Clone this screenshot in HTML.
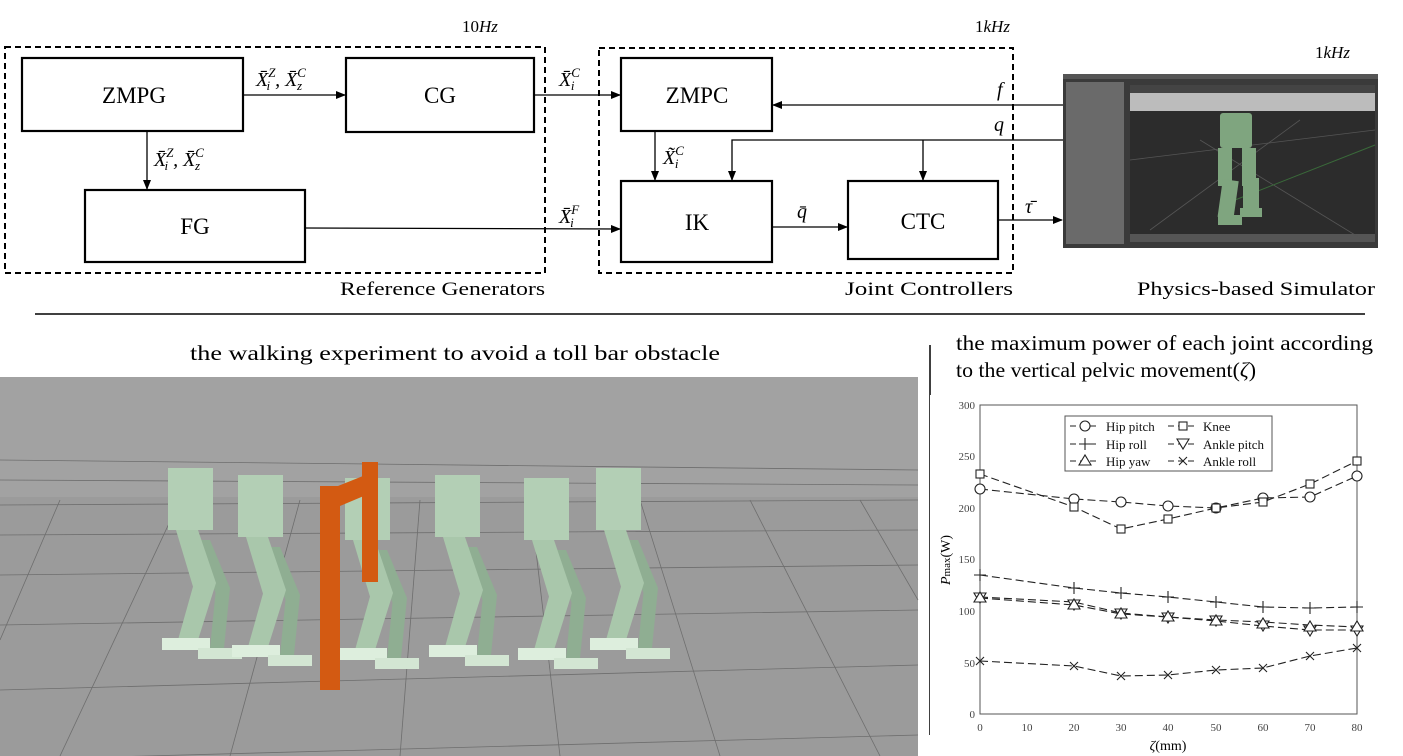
<!DOCTYPE html>
<html><head><meta charset="utf-8"><style>
html,body{margin:0;padding:0;background:#fff;}
svg{display:block;}
.t{font-family:"Liberation Serif",serif;}
.m{font-family:"Liberation Serif",serif;font-style:italic;}
</style></head><body>
<svg width="1403" height="756" viewBox="0 0 1403 756" xmlns="http://www.w3.org/2000/svg">
<defs>
<marker id="a" markerWidth="10" markerHeight="8" refX="9" refY="4" orient="auto" markerUnits="userSpaceOnUse"><path d="M0,0 L10,4 L0,8z" fill="#000"/></marker>
<g id="rb">
<polygon points="28,72 42,72 62,120 48,126" fill="#8fae92"/>
<polygon points="48,120 62,120 56,180 42,180" fill="#8fae92"/>
<polygon points="8,62 30,62 48,115 26,122" fill="#a9c7ab"/>
<polygon points="26,115 48,115 30,172 10,172" fill="#a9c7ab"/>
<rect x="0" y="0" width="45" height="62" fill="#b3cfb5"/>
<rect x="-6" y="170" width="48" height="12" fill="#ddeedd"/>
<rect x="30" y="180" width="44" height="11" fill="#d3e6d3"/>
</g>
</defs>
<rect x="5" y="47" width="540" height="226" fill="none" stroke="#000" stroke-width="2" stroke-dasharray="6,4"/>
<rect x="599" y="48" width="414" height="225" fill="none" stroke="#000" stroke-width="2" stroke-dasharray="6,4"/>
<text x="462" y="32" class="t" font-size="17">10<tspan font-style="italic">Hz</tspan></text>
<text x="975" y="32" class="t" font-size="17">1<tspan font-style="italic">kHz</tspan></text>
<text x="1315" y="58" class="t" font-size="17">1<tspan font-style="italic">kHz</tspan></text>
<g fill="#fff" stroke="#000" stroke-width="2.2">
<rect x="22" y="58" width="221" height="73"/>
<rect x="346" y="58" width="188" height="74"/>
<rect x="85" y="190" width="220" height="72"/>
<rect x="621" y="58" width="151" height="73"/>
<rect x="621" y="181" width="151" height="81"/>
<rect x="848" y="181" width="150" height="78"/>
</g>
<g class="t" font-size="23" text-anchor="middle">
<text x="134" y="103">ZMPG</text>
<text x="440" y="103">CG</text>
<text x="195" y="234">FG</text>
<text x="697" y="103">ZMPC</text>
<text x="697" y="230">IK</text>
<text x="923" y="229">CTC</text>
</g>
<g stroke="#000" stroke-width="1.3" fill="none">
<line x1="243" y1="95" x2="345" y2="95" marker-end="url(#a)"/>
<line x1="534" y1="95" x2="620" y2="95" marker-end="url(#a)"/>
<line x1="147" y1="131" x2="147" y2="189" marker-end="url(#a)"/>
<line x1="305" y1="228" x2="620" y2="229" marker-end="url(#a)"/>
<line x1="655" y1="131" x2="655" y2="180" marker-end="url(#a)"/>
<line x1="1063" y1="105" x2="773" y2="105" marker-end="url(#a)"/>
<polyline points="1063,140 732,140 732,180" marker-end="url(#a)"/>
<line x1="923" y1="140" x2="923" y2="180" marker-end="url(#a)"/>
<line x1="772" y1="227" x2="847" y2="227" marker-end="url(#a)"/>
<line x1="998" y1="220" x2="1062" y2="220" marker-end="url(#a)"/>
</g>
<g class="m" font-size="20">
<text x="256" y="86">X̄<tspan font-size="13" dy="-9">Z</tspan><tspan font-size="13" dy="13" dx="-9">i</tspan><tspan dy="-4" dx="5">, X̄</tspan><tspan font-size="13" dy="-9">C</tspan><tspan font-size="13" dy="13" dx="-9">z</tspan></text>
<text x="154" y="166">X̄<tspan font-size="13" dy="-9">Z</tspan><tspan font-size="13" dy="13" dx="-9">i</tspan><tspan dy="-4" dx="5">, X̄</tspan><tspan font-size="13" dy="-9">C</tspan><tspan font-size="13" dy="13" dx="-9">z</tspan></text>
<text x="559" y="86">X̄<tspan font-size="13" dy="-9">C</tspan><tspan font-size="13" dy="13" dx="-9">i</tspan></text>
<text x="559" y="223">X̄<tspan font-size="13" dy="-9">F</tspan><tspan font-size="13" dy="13" dx="-9">i</tspan></text>
<text x="663" y="164">X̃<tspan font-size="13" dy="-9">C</tspan><tspan font-size="13" dy="13" dx="-9">i</tspan></text>
<text x="997" y="96">f</text>
<text x="994" y="131">q</text>
<text x="797" y="218">q̄</text>
<text x="1025" y="213">τ̄</text>
</g>
<g class="t" font-size="19">
<text x="340" y="295" textLength="205" lengthAdjust="spacingAndGlyphs">Reference Generators</text>
<text x="845" y="295" textLength="168" lengthAdjust="spacingAndGlyphs">Joint Controllers</text>
<text x="1137" y="295" textLength="238" lengthAdjust="spacingAndGlyphs">Physics-based Simulator</text>
</g>
<rect x="1063" y="74" width="315" height="174" fill="#3a3a3a"/>
<rect x="1063" y="74" width="315" height="5" fill="#555"/>
<rect x="1066" y="82" width="58" height="162" fill="#6a6a6a"/>
<rect x="1130" y="85" width="245" height="8" fill="#444"/>
<rect x="1130" y="93" width="245" height="18" fill="#bcbcbc"/>
<rect x="1130" y="111" width="245" height="126" fill="#2c2c2c"/>
<rect x="1130" y="234" width="245" height="8" fill="#555"/>
<g stroke="#555" stroke-width="0.8"><line x1="1130" y1="160" x2="1375" y2="130"/><line x1="1150" y1="230" x2="1300" y2="120"/><line x1="1200" y1="140" x2="1360" y2="238"/></g>
<line x1="1235" y1="200" x2="1375" y2="145" stroke="#3a6a3a"/>
<g fill="#7fa57f">
<rect x="1220" y="113" width="32" height="35" rx="3"/>
<rect x="1218" y="148" width="14" height="38"/><rect x="1242" y="148" width="14" height="38"/>
<rect x="1220" y="180" width="16" height="38" transform="rotate(8 1228 200)"/>
<rect x="1243" y="178" width="16" height="36"/>
<rect x="1218" y="215" width="24" height="10"/><rect x="1240" y="208" width="22" height="9"/>
</g>
<line x1="35" y1="314" x2="1365" y2="314" stroke="#000" stroke-width="1.5"/>
<line x1="930" y1="345" x2="930" y2="735" stroke="#000" stroke-width="1.5"/>
<text x="190" y="360" class="t" font-size="21" textLength="530" lengthAdjust="spacingAndGlyphs">the walking experiment to avoid a toll bar obstacle</text>
<text x="956" y="350" class="t" font-size="21" textLength="417" lengthAdjust="spacingAndGlyphs">the maximum power of each joint according</text>
<text x="956" y="377" class="t" font-size="21" textLength="300" lengthAdjust="spacingAndGlyphs">to the vertical pelvic movement(<tspan font-style="italic">ζ</tspan>)</text>
<rect x="0" y="377" width="918" height="379" fill="#9b9b9b"/>
<rect x="0" y="377" width="918" height="120" fill="#a2a2a2"/>
<g stroke="#6e6e6e" stroke-width="0.8" fill="none">
<line x1="0" y1="505" x2="918" y2="500"/><line x1="0" y1="535" x2="918" y2="530"/>
<line x1="0" y1="575" x2="918" y2="565"/><line x1="0" y1="625" x2="918" y2="610"/>
<line x1="0" y1="690" x2="918" y2="665"/><line x1="0" y1="460" x2="918" y2="470"/>
<line x1="0" y1="480" x2="918" y2="485"/><line x1="0" y1="760" x2="918" y2="735"/>
<line x1="60" y1="500" x2="0" y2="640"/><line x1="180" y1="500" x2="60" y2="756"/>
<line x1="300" y1="500" x2="230" y2="756"/><line x1="420" y1="500" x2="400" y2="756"/>
<line x1="530" y1="500" x2="560" y2="756"/><line x1="640" y1="500" x2="720" y2="756"/>
<line x1="750" y1="500" x2="880" y2="756"/><line x1="860" y1="500" x2="918" y2="600"/>
</g>
<use href="#rb" x="168" y="468"/>
<use href="#rb" x="238" y="475"/>
<use href="#rb" x="345" y="478"/>
<use href="#rb" x="435" y="475"/>
<use href="#rb" x="524" y="478"/>
<use href="#rb" x="596" y="468"/>
<g fill="#d35a12">
<rect x="362" y="462" width="16" height="120"/>
<rect x="320" y="486" width="20" height="204"/>
<polygon points="338,486 378,470 378,490 340,506"/>
</g>
<rect x="930" y="395" width="473" height="361" fill="#fff"/>
<rect x="980" y="405" width="377" height="309" fill="none" stroke="#555" stroke-width="1"/>
<g font-family="Liberation Serif" font-size="11" fill="#444" text-anchor="end">
<text x="975" y="409">300</text><text x="975" y="460">250</text><text x="975" y="512">200</text><text x="975" y="563">150</text><text x="975" y="615">100</text><text x="975" y="667">50</text><text x="975" y="718">0</text>
</g>
<g font-family="Liberation Serif" font-size="11" fill="#444" text-anchor="middle">
<text x="980" y="731">0</text><text x="1027" y="731">10</text><text x="1074" y="731">20</text><text x="1121" y="731">30</text><text x="1168" y="731">40</text><text x="1216" y="731">50</text><text x="1263" y="731">60</text><text x="1310" y="731">70</text><text x="1357" y="731">80</text>
</g>
<text x="1168" y="750" class="t" font-size="14" text-anchor="middle"><tspan font-style="italic">ζ</tspan>(mm)</text>
<text transform="translate(950,560) rotate(-90)" class="t" font-size="14" text-anchor="middle"><tspan font-style="italic">P</tspan><tspan font-size="11">max</tspan>(W)</text>
<g fill="none" stroke="#222" stroke-width="1.1" stroke-dasharray="8,4">
<polyline points="980,489 1074,499 1121,502 1168,506 1216,508 1263,498 1310,497 1357,476"/>
<polyline points="980,474 1074,507 1121,529 1168,519 1216,508 1263,502 1310,484 1357,461"/>
<polyline points="980,575 1074,588 1121,593 1168,597 1216,602 1263,607 1310,608 1357,607"/>
<polyline points="980,598 1074,605 1121,614 1168,617 1216,620 1263,622 1310,625 1357,627"/>
<polyline points="980,597 1074,602 1121,613 1168,617 1216,621 1263,626 1310,630 1357,630"/>
<polyline points="980,661 1074,666 1121,676 1168,675 1216,670 1263,668 1310,656 1357,648"/>
</g>
<g fill="#fff" stroke="#222" stroke-width="1.1">
<circle cx="980" cy="489" r="5"/><circle cx="1074" cy="499" r="5"/><circle cx="1121" cy="502" r="5"/><circle cx="1168" cy="506" r="5"/><circle cx="1216" cy="508" r="5"/><circle cx="1263" cy="498" r="5"/><circle cx="1310" cy="497" r="5"/><circle cx="1357" cy="476" r="5"/>
<rect x="976" y="470" width="8" height="8"/><rect x="1070" y="503" width="8" height="8"/><rect x="1117" y="525" width="8" height="8"/><rect x="1164" y="515" width="8" height="8"/><rect x="1212" y="504" width="8" height="8"/><rect x="1259" y="498" width="8" height="8"/><rect x="1306" y="480" width="8" height="8"/><rect x="1353" y="457" width="8" height="8"/>
</g>
<g stroke="#222" stroke-width="1.1" fill="none">
<path d="M974,575h12M980,569v12M1068,588h12M1074,582v12M1115,593h12M1121,587v12M1162,597h12M1168,591v12M1210,602h12M1216,596v12M1257,607h12M1263,601v12M1304,608h12M1310,602v12M1351,607h12M1357,601v12"/>
<path d="M976,657l8,8M984,657l-8,8M1070,662l8,8M1078,662l-8,8M1117,672l8,8M1125,672l-8,8M1164,671l8,8M1172,671l-8,8M1212,666l8,8M1220,666l-8,8M1259,664l8,8M1267,664l-8,8M1306,652l8,8M1314,652l-8,8M1353,644l8,8M1361,644l-8,8"/>
<path d="M974,593h12l-6,10zM1068,600h12l-6,10zM1115,609h12l-6,10zM1162,613h12l-6,10zM1210,616h12l-6,10zM1257,621h12l-6,10zM1304,626h12l-6,10zM1351,626h12l-6,10z" fill="#fff"/>
<path d="M974,602h12l-6,-10zM1068,609h12l-6,-10zM1115,618h12l-6,-10zM1162,621h12l-6,-10zM1210,625h12l-6,-10zM1257,628h12l-6,-10zM1304,631h12l-6,-10zM1351,631h12l-6,-10z" fill="#fff"/>
</g>
<rect x="1065" y="416" width="207" height="55" fill="#fff" stroke="#555"/>
<g stroke="#222" stroke-width="1.1" fill="#fff">
<path d="M1070,426h30M1070,444h30M1070,461h30M1168,426h30M1168,444h30M1168,461h30" stroke-dasharray="6,4"/>
<circle cx="1085" cy="426" r="5"/>
<path d="M1079,444h12M1085,438v12"/>
<path d="M1079,465h12l-6,-10z"/>
<rect x="1179" y="422" width="8" height="8"/>
<path d="M1177,439h12l-6,10z"/>
<path d="M1179,457l8,8M1187,457l-8,8"/>
</g>
<g font-family="Liberation Serif" font-size="13" fill="#111">
<text x="1106" y="431">Hip pitch</text><text x="1106" y="449">Hip roll</text><text x="1106" y="466">Hip yaw</text>
<text x="1203" y="431">Knee</text><text x="1203" y="449">Ankle pitch</text><text x="1203" y="466">Ankle roll</text>
</g>
</svg>
</body></html>
